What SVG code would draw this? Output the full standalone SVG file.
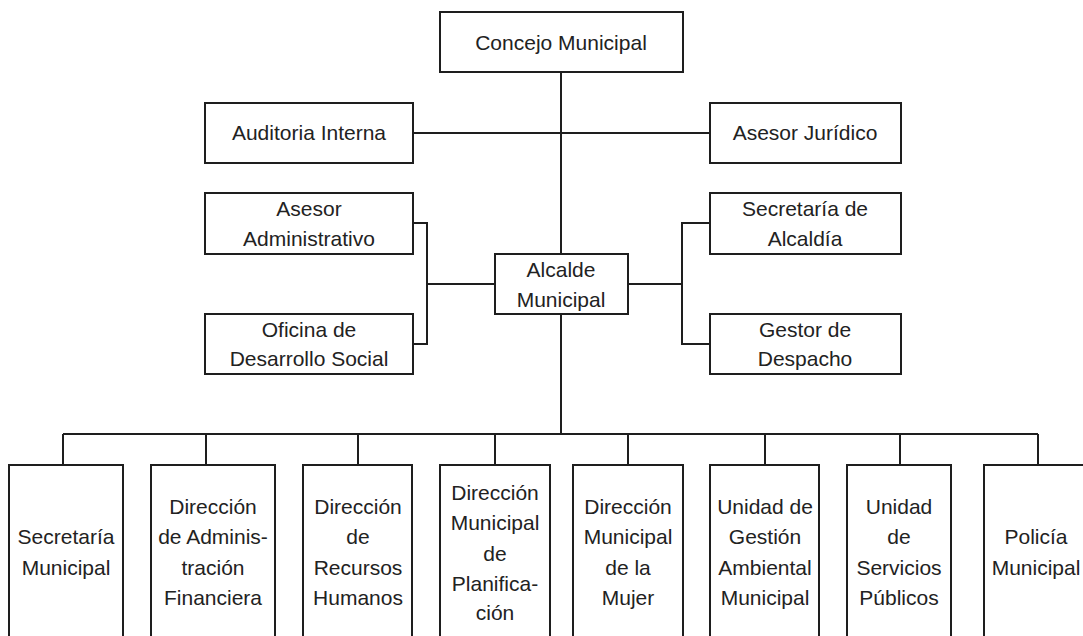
<svg xmlns="http://www.w3.org/2000/svg" width="1083" height="636" viewBox="0 0 1083 636">
<style>
.box{fill:#fff;stroke:#1e1e1e;stroke-width:2}
.ln{fill:none;stroke:#1e1e1e;stroke-width:2}
text{font-family:"Liberation Sans",Arial,sans-serif;font-size:21px;fill:#222;text-anchor:middle}
</style>
<rect width="1083" height="636" fill="#fff"/>
<g id="connectors">
<path class="ln" d="M561,72 V254 M413,133 H710 M413,223 H427 V344 H413 M427,284 H495 M628,284 H682 M710,223 H682 V344 H710 M561,314 V434 M63,434 H1038 M63,434 V465 M206,434 V465 M358,434 V465 M495,434 V465 M628,434 V465 M765,434 V465 M900,434 V465 M1038,434 V465"/>
</g>
<g id="concejo"><rect class="box" x="440" y="12" width="243" height="60"/><text x="561" y="50">Concejo Municipal</text></g>
<g id="auditoria"><rect class="box" x="205" y="103" width="208" height="60"/><text x="309" y="140">Auditoria Interna</text></g>
<g id="asesor-juridico"><rect class="box" x="710" y="103" width="191" height="60"/><text x="805" y="140">Asesor Jurídico</text></g>
<g id="asesor-admin"><rect class="box" x="205" y="193" width="208" height="61"/><text x="309" y="216">Asesor</text><text x="309" y="246">Administrativo</text></g>
<g id="oficina"><rect class="box" x="205" y="314" width="208" height="60"/><text x="309" y="337">Oficina de</text><text x="309" y="366">Desarrollo Social</text></g>
<g id="alcalde"><rect class="box" x="495" y="254" width="133" height="60"/><text x="561" y="277">Alcalde</text><text x="561" y="307">Municipal</text></g>
<g id="secretaria-alcaldia"><rect class="box" x="710" y="193" width="191" height="61"/><text x="805" y="216">Secretaría de</text><text x="805" y="246">Alcaldía</text></g>
<g id="gestor"><rect class="box" x="710" y="314" width="191" height="60"/><text x="805" y="337">Gestor de</text><text x="805" y="366">Despacho</text></g>
<g id="secretaria-municipal"><rect class="box" x="9" y="465" width="114" height="180"/><text x="66" y="544">Secretaría</text><text x="66" y="575">Municipal</text></g>
<g id="dir-admin-fin"><rect class="box" x="151" y="465" width="124" height="180"/><text x="213" y="514">Dirección</text><text x="213" y="544">de Adminis-</text><text x="213" y="575">tración</text><text x="213" y="605">Financiera</text></g>
<g id="dir-rrhh"><rect class="box" x="303" y="465" width="109" height="180"/><text x="358" y="514">Dirección</text><text x="358" y="544">de</text><text x="358" y="575">Recursos</text><text x="358" y="605">Humanos</text></g>
<g id="dir-planificacion"><rect class="box" x="440" y="465" width="110" height="180"/><text x="495" y="500">Dirección</text><text x="495" y="530">Municipal</text><text x="495" y="561">de</text><text x="495" y="591">Planifica-</text><text x="495" y="620">ción</text></g>
<g id="dir-mujer"><rect class="box" x="573" y="465" width="110" height="180"/><text x="628" y="514">Dirección</text><text x="628" y="544">Municipal</text><text x="628" y="575">de la</text><text x="628" y="605">Mujer</text></g>
<g id="unidad-ambiental"><rect class="box" x="710" y="465" width="109" height="180"/><text x="765" y="514">Unidad de</text><text x="765" y="544">Gestión</text><text x="765" y="575">Ambiental</text><text x="765" y="605">Municipal</text></g>
<g id="unidad-servicios"><rect class="box" x="847" y="465" width="104" height="180"/><text x="899" y="514">Unidad</text><text x="899" y="544">de</text><text x="899" y="575">Servicios</text><text x="899" y="605">Públicos</text></g>
<g id="policia"><rect class="box" x="984" y="465" width="110" height="180"/><text x="1036" y="544">Policía</text><text x="1036" y="575">Municipal</text></g>
</svg>
